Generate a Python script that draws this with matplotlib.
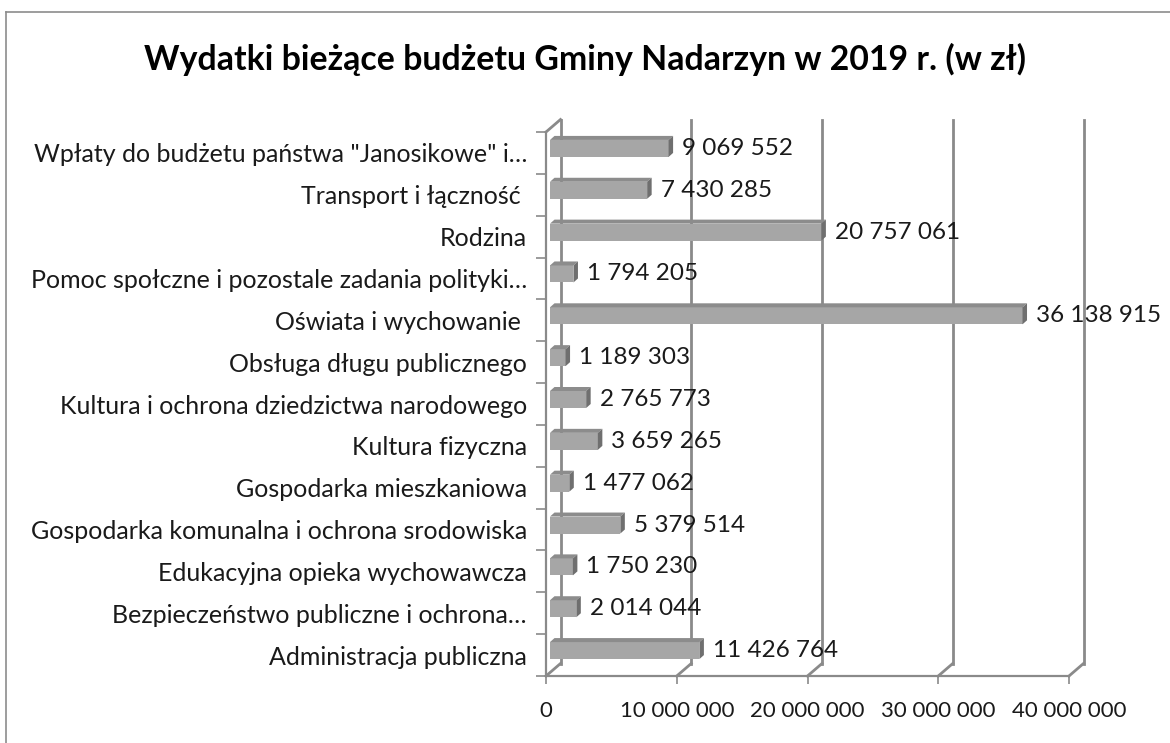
import numpy as np
import matplotlib
matplotlib.use("Agg")
import matplotlib.pyplot as plt
from matplotlib.patches import Polygon
from matplotlib.lines import Line2D

# ---------------- data ----------------
title = "Wydatki bieżące budżetu Gminy Nadarzyn w 2019 r. (w zł)"
categories = [
    "Administracja publiczna",
    "Bezpieczeństwo publiczne i ochrona…",
    "Edukacyjna opieka wychowawcza",
    "Gospodarka komunalna i ochrona srodowiska",
    "Gospodarka mieszkaniowa",
    "Kultura fizyczna",
    "Kultura i ochrona dziedzictwa narodowego",
    "Obsługa długu publicznego",
    "Oświata i wychowanie ",
    "Pomoc społczne i pozostale zadania polityki…",
    "Rodzina",
    "Transport i łączność ",
    "Wpłaty do budżetu państwa \"Janosikowe\" i…",
]
values = [11426764, 2014044, 1750230, 5379514, 1477062, 3659265, 2765773,
          1189303, 36138915, 1794205, 20757061, 7430285, 9069552]
x_ticks = [0, 10000000, 20000000, 30000000, 40000000]
x_tick_labels = ["0", "10 000 000", "20 000 000", "30 000 000", "40 000 000"]

# ---------------- style ----------------
FONT = "Lato"
W, H = 1170, 743
fig = plt.figure(figsize=(W / 100, H / 100), dpi=100)
fig.patch.set_facecolor("white")

# plot area (front floor edge) in pixels
px_left, px_right = 546, 1069
px_bottom, px_top = 676, 132
ax = fig.add_axes([px_left / W, 1 - px_bottom / H,
                   (px_right - px_left) / W, (px_bottom - px_top) / H])
ax.set_xlim(x_ticks[0], x_ticks[-1])
n = len(categories)
ax.set_ylim(-0.5, n - 0.5)
ax.set_facecolor("none")

sx = (x_ticks[-1] - x_ticks[0]) / (px_right - px_left)  # data per px
sy = n / (px_bottom - px_top)

grid_c = "#8a8a8a"
DX, DY = 14.5 * sx, 12.5 * sy

# back wall gridlines
for v in x_ticks:
    ax.add_line(Line2D([v + DX, v + DX], [-0.5 + DY, n - 0.5 + DY],
                       color=grid_c, lw=2.0, zorder=1, clip_on=False))
    ax.add_line(Line2D([v, v + DX], [-0.5, -0.5 + DY],
                       color=grid_c, lw=2.0, zorder=1, clip_on=False))
ax.add_line(Line2D([0, DX], [n - 0.5, n - 0.5 + DY],
                   color=grid_c, lw=2.0, zorder=1, clip_on=False))

# spines
for s in ["top", "right"]:
    ax.spines[s].set_visible(False)
for s in ["left", "bottom"]:
    ax.spines[s].set_color(grid_c)
    ax.spines[s].set_linewidth(1.6)

TXT = 17.5
ax.set_yticks(np.arange(-0.5, n, 1.0))
ax.set_yticklabels([])
ax.tick_params(axis="y", length=7.2, width=1.2, color=grid_c)
ax.set_xticks(x_ticks)
ax.set_xticklabels(x_tick_labels, fontfamily=FONT, fontsize=16, color="#1a1a1a")
ax.tick_params(axis="x", length=6, width=1.2, color=grid_c, pad=12)

# bars (pseudo 3D)
y = np.arange(n)
x0 = 4 * sx
bh = 17 * sy
yc = y + 4.5 * sy
bx, by = 4.5 * sx, 4 * sy
front_c, top_c, side_c = "#a6a6a6", "#8c8c8c", "#6f6f6f"
ax.barh(yc, values, left=x0, height=bh, color=front_c, edgecolor="none",
        zorder=3)
for yi, v in zip(yc, values):
    yt = yi + bh / 2
    yb = yi - bh / 2
    xe = x0 + v
    ax.add_patch(Polygon([(x0, yt), (xe, yt), (xe + bx, yt + by), (x0 + bx, yt + by)],
                         closed=True, facecolor=top_c, edgecolor="none", zorder=3))
    ax.add_patch(Polygon([(xe, yb), (xe, yt), (xe + bx, yt + by), (xe + bx, yb + by)],
                         closed=True, facecolor=side_c, edgecolor="none", zorder=3))
    ax.annotate(f"{v:,}".replace(",", " "), xy=(xe + bx, yi), xytext=(9, 0),
                textcoords="offset pixels", ha="left", va="center",
                fontfamily=FONT, fontsize=TXT, color="#1a1a1a",
                annotation_clip=False, zorder=4)

# category labels
for yi, lab in zip(y, categories):
    ax.annotate(lab, xy=(0, yi), xytext=(-19, -2), textcoords="offset pixels",
                ha="right", va="center", fontfamily=FONT, fontsize=18,
                color="#1a1a1a", annotation_clip=False)

# title
fig.text(585 / W, 1 - 59 / H, title, ha="center", va="center",
         fontfamily=FONT, fontweight="bold", fontsize=24.4, color="black")

# chart border (left and top visible)
fig.add_artist(Line2D([5.5 / W, 5.5 / W], [0, 1 - 11.5 / H], transform=fig.transFigure,
                      color="#8c8c8c", lw=1.2))
fig.add_artist(Line2D([5.5 / W, 1], [1 - 11.5 / H, 1 - 11.5 / H], transform=fig.transFigure,
                      color="#8c8c8c", lw=1.2))

fig.savefig("out.png", dpi=100, facecolor="white")
